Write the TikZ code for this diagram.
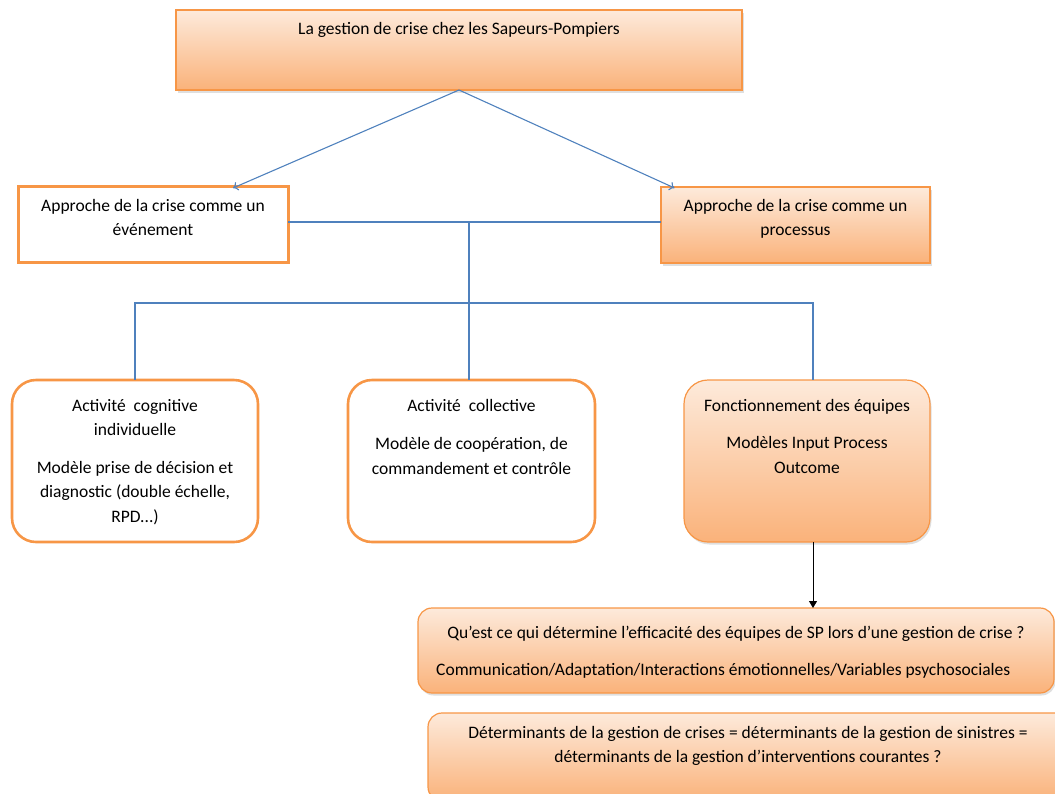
\documentclass[tikz,border=0pt]{standalone}
\usepackage{fontspec}
\setmainfont{Carlito}
\usetikzlibrary{positioning,shadows,arrows.meta}
\definecolor{orbord}{RGB}{247,150,70}
\definecolor{orhaut}{RGB}{253,234,219}
\definecolor{orbas}{RGB}{250,178,122}
\definecolor{bleu}{RGB}{79,129,189}

\begin{document}
\begin{tikzpicture}[x=1pt,y=-1pt,
		font=\fontsize{17.5}{24.5}\selectfont,
		degrade/.style={top color=orhaut,bottom color=orbas,
			drop shadow={opacity=0.25,shadow xshift=1.5pt,shadow yshift=-2.5pt}},
		cadre/.style={draw=orbord,minimum width=#1,inner sep=0,outer sep=0},
		carre/.style={draw=orbord,line width=3pt,fill=white},
		bulle/.style={draw=orbord,line width=2.6pt,rounded corners=24pt,fill=white},
		texte/.style={inner sep=0,anchor=north,align=center},
		lien/.style={draw=bleu,line width=1.1pt},
		fleche/.style={lien,-{To[length=5pt,width=9pt]}}]
		\useasboundingbox (0,0) rectangle (1055,793);

		% boites
		\node[cadre=566pt,minimum height=80pt,degrade,line width=1.4pt] (titre) at (459,50) {};
		\node[cadre=270pt,minimum height=76pt,carre] (evt) at (153,224) {};
		\node[cadre=269pt,minimum height=76pt,degrade,line width=1.2pt] (proc) at (795.5,225) {};
		\node[cadre=246pt,minimum height=162pt,bulle] (cog) at (135,461) {};
		\node[cadre=247pt,minimum height=162pt,bulle] (coll) at (471.5,461) {};
		\node[cadre=246pt,minimum height=162pt,bulle,degrade,line width=1.2pt] (equ) at (807,461) {};
		\node[cadre=636pt,minimum height=85pt,degrade,line width=1.2pt,rounded corners=14pt] (quest) at (736,650.5) {};
		\node[cadre=640pt,minimum height=88pt,degrade,line width=1.2pt,rounded corners=14pt] (det) at (748,757) {};

		% textes
		\node[texte,below=12pt of titre.north] {La gestion de crise chez les Sapeurs-Pompiers};
		\node[texte,below=13pt of evt.north] {Approche de la crise comme un\\événement};
		\node[texte,below=12pt of proc.north] {Approche de la crise comme un\\processus};
		\node[texte,below=19pt of cog.north] {Activité\ \ cognitive\\individuelle\\[13pt]Modèle prise de décision et\\diagnostic (double échelle,\\RPD...)};
		\node[texte,below=19pt of coll.north] {Activité\ \ collective\\[14pt]Modèle de coopération, de\\commandement et contrôle};
		\node[texte,below=19pt of equ.north] {Fonctionnement des équipes\\[13pt]Modèles Input Process\\Outcome};
		\node[texte,below=18pt of quest.north] (q1) {Qu’est ce qui détermine l’efficacité des équipes de SP lors d’une gestion de crise ?};
		\node[texte,anchor=north west,inner sep=0] at (436,663) {Communication/Adaptation/Interactions émotionnelles/Variables psychosociales};
		\node[texte,below=13pt of det.north] {Déterminants de la gestion de crises = déterminants de la gestion de sinistres =\\déterminants de la gestion d’interventions courantes ?};

		% liens
		\draw[fleche] (titre.south) -- ([xshift=80pt,yshift=-2pt]evt.north);
		\draw[fleche] (titre.south) -- ([xshift=-121pt,yshift=-1pt]proc.north);
		\coordinate (jonc) at (469,222);
		\coordinate (bus) at (469,303);
		\draw[lien] (evt.east |- jonc) -- (proc.west |- jonc);
		\draw[lien] (jonc) -- (bus);
		\draw[lien] (bus) -| (cog.north);
		\draw[lien] (bus) -- (coll.north -| bus);
		\draw[lien] (bus) -| ([xshift=6pt]equ.north);
		\draw[-{Triangle[length=7pt,width=8pt]},line width=1pt] ([xshift=6pt]equ.south) -- ([xshift=6pt]equ.south |- quest.north);
	\end{tikzpicture}
\end{document}
